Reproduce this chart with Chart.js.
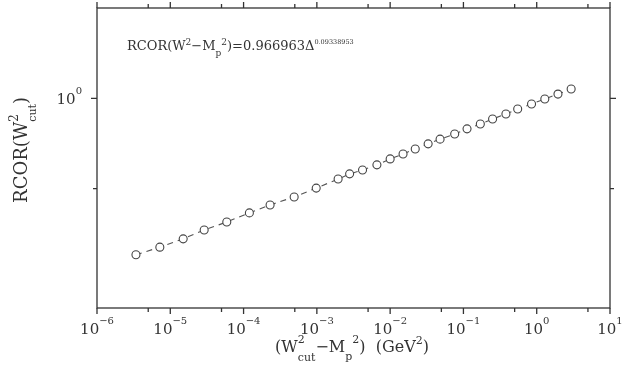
<!DOCTYPE html>
<html>
<head>
<meta charset="utf-8">
<script src="https://cdn.jsdelivr.net/npm/chart.js@4"></script>
<style>
  html, body { margin: 0; padding: 0; background: #fff; }
  #wrap { width: 622px; height: 365px; }
</style>
</head>
<body>
<div id="wrap"><canvas id="rcorChart" width="622" height="365"></canvas></div>
<script>
// W^2_cut - M_p^2 (GeV^2)
const deltaValues = [3.4e-6, 7.2e-6, 1.5e-5, 2.9e-5, 5.9e-5, 1.2e-4, 2.3e-4, 4.9e-4, 9.8e-4,
    1.95e-3, 2.8e-3, 4.2e-3, 6.6e-3, 1.0e-2, 1.5e-2, 2.2e-2, 3.3e-2, 4.8e-2, 7.6e-2,
    0.112, 0.17, 0.25, 0.38, 0.55, 0.85, 1.29, 1.95, 2.95];
const rcorValues = [0.301, 0.319, 0.340, 0.364, 0.387, 0.415, 0.441, 0.469, 0.502,
    0.538, 0.560, 0.577, 0.600, 0.628, 0.652, 0.678, 0.705, 0.731, 0.760,
    0.791, 0.821, 0.853, 0.887, 0.921, 0.957, 0.995, 1.033, 1.074];
const xMajorExps = [-6, -5, -4, -3, -2, -1, 0, 1];
const xMinorTicks = [5e-6, 5e-5, 5e-4, 5e-3, 5e-2, 5e-1, 5];
const yMajorExps = [0];
const yMinorTicks = [0.5];

const ink = '#333';
const serif = '"DejaVu Serif", "Liberation Serif", serif';

// draws a run of text pieces: [text, size, dy, stack]
// stack = true: the next piece starts at the same x (super over sub)
function richText(ctx, x, y, parts, align) {
    const widthOf = p => { ctx.font = p[1] + 'px ' + serif; return ctx.measureText(p[0]).width; };
    let w = 0;
    parts.forEach((p, i) => {
        if (p[3]) return;
        const prev = parts[i - 1];
        w += (prev && prev[3]) ? Math.max(widthOf(p), widthOf(prev)) : widthOf(p);
    });
    let cx = align === 'center' ? x - w / 2 : (align === 'right' ? x - w : x);
    ctx.textAlign = 'left';
    ctx.textBaseline = 'alphabetic';
    parts.forEach((p, i) => {
        ctx.font = p[1] + 'px ' + serif;
        ctx.fillText(p[0], cx, y + (p[2] || 0));
        if (p[3]) return;
        const prev = parts[i - 1];
        cx += (prev && prev[3]) ? Math.max(widthOf(p), widthOf(prev)) : widthOf(p);
    });
}

const axesPlugin = {
    id: 'frameAxes',
    afterDraw: (chart) => {
        const { ctx, chartArea: a, scales: { x, y } } = chart;
        ctx.save();
        ctx.strokeStyle = ink;
        ctx.fillStyle = ink;
        ctx.lineWidth = 1.3;
        ctx.strokeRect(a.left, a.top, a.right - a.left, a.bottom - a.top);

        const tick = (px, len, horiz) => {
            ctx.beginPath();
            if (horiz) {
                ctx.moveTo(px, a.bottom); ctx.lineTo(px, a.bottom + len);
                ctx.moveTo(px, a.top); ctx.lineTo(px, a.top - len);
            } else {
                ctx.moveTo(a.left, px); ctx.lineTo(a.left - len, px);
                ctx.moveTo(a.right, px); ctx.lineTo(a.right + len, px);
            }
            ctx.stroke();
        };
        xMajorExps.forEach(e => tick(x.getPixelForValue(Math.pow(10, e)), 6, true));
        xMinorTicks.forEach(v => tick(x.getPixelForValue(v), 4, true));
        yMajorExps.forEach(e => tick(y.getPixelForValue(Math.pow(10, e)), 6, false));
        yMinorTicks.forEach(v => tick(y.getPixelForValue(v), 4, false));

        // tick labels
        xMajorExps.forEach(e => {
            const px = x.getPixelForValue(Math.pow(10, e));
            const ex = e < 0 ? '\u2212' + (-e) : String(e);
            richText(ctx, px, 334, [['10', 15], [ex, 10, -10]], 'center');
        });
        yMajorExps.forEach(e => {
            const py = y.getPixelForValue(Math.pow(10, e));
            richText(ctx, a.left - 15, py + 6, [['10', 15], [String(e), 10, -10]], 'right');
        });

        // x title
        richText(ctx, 352, 352, [['(W', 16], ['2', 11, -9, true], ['cut', 11, 9], ['\u2212M', 16],
            ['p', 11, 8], ['2', 11, -9], [')  (GeV', 16], ['2', 11, -8], [')', 16]], 'center');

        // y title
        ctx.save();
        ctx.translate(27, 150);
        ctx.rotate(-Math.PI / 2);
        richText(ctx, 0, 0, [['RCOR(W', 18], ['2', 12, -9, true], ['cut', 11, 9], [')', 18]], 'center');
        ctx.restore();

        // fit annotation
        richText(ctx, 127, 50, [['RCOR(W', 13], ['2', 9, -5], ['\u2212M', 13], ['p', 9, 6],
            ['2', 9, -5], [')=0.966963\u0394', 13], ['0.09338953', 6.5, -6]], 'left');
        ctx.restore();
    }
};

new Chart(document.getElementById('rcorChart'), {
    type: 'line',
    plugins: [axesPlugin],
    data: {
        datasets: [{
            data: deltaValues.map((d, i) => ({ x: d, y: rcorValues[i] })),
            borderColor: '#555',
            borderWidth: 1.1,
            borderDash: [6, 5],
            pointStyle: 'circle',
            pointRadius: 4,
            pointBorderWidth: 1.1,
            pointBorderColor: '#444',
            pointBackgroundColor: '#fff',
            tension: 0
        }]
    },
    options: {
        responsive: false,
        animation: false,
        layout: { padding: { left: 97, right: 12, top: 8, bottom: 57 } },
        scales: {
            x: { type: 'logarithmic', min: 1e-6, max: 10, display: false },
            y: { type: 'logarithmic', min: 0.2, max: 2, display: false }
        },
        plugins: { legend: { display: false }, tooltip: { enabled: false } }
    }
});
</script>
</body>
</html>
